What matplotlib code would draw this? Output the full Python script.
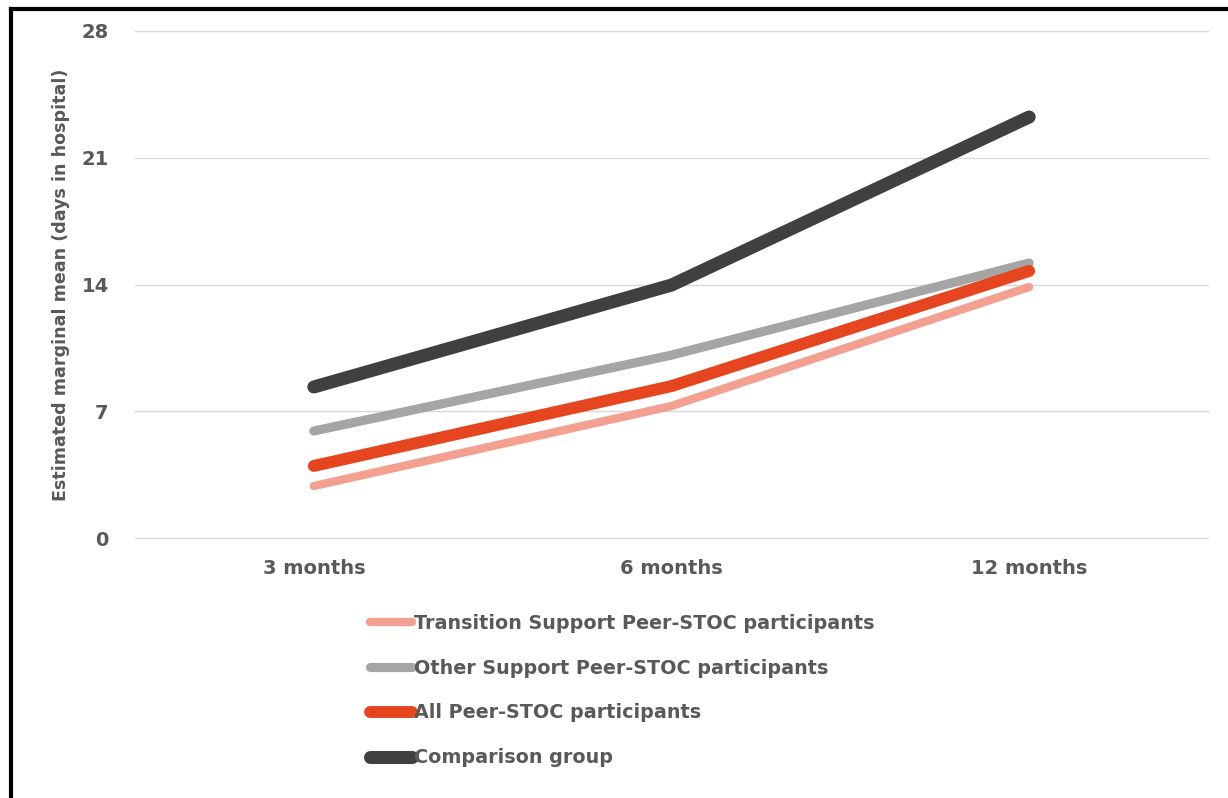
import matplotlib.pyplot as plt
from matplotlib.lines import Line2D

periods = ['3 months', '6 months', '12 months']
transition_support = [2.87, 7.29, 13.86]
other_support = [5.91, 10.1, 15.19]
all_peer = [3.98, 8.39, 14.75]
comparison = [8.34, 13.97, 23.25]
y_ticks = [0, 7, 14, 21, 28]

text_grey = '#595959'
plt.rcParams['font.family'] = 'DejaVu Sans'
plt.rcParams['font.weight'] = 'bold'

fig = plt.figure(figsize=(12.28, 7.98), dpi=100)
ax = fig.add_axes([135 / 1228, 1 - 538 / 798, (1208 - 135) / 1228, (538 - 31) / 798])

x = range(len(periods))
series = [
    ('Transition Support Peer-STOC participants', transition_support, '#F4A090', 6.0),
    ('Other Support Peer-STOC participants', other_support, '#A5A5A5', 6.6),
    ('All Peer-STOC participants', all_peer, '#E6461F', 8.6),
    ('Comparison group', comparison, '#404040', 9.4),
]
for label, vals, col, lw in series:
    ax.plot(x, vals, color=col, lw=lw, solid_capstyle='round',
            solid_joinstyle='round', label=label)

ax.set_xlim(-0.5, 2.5)
ax.set_ylim(0, 28)
ax.set_yticks(y_ticks)
ax.set_xticks(list(x))
ax.set_xticklabels(periods)
ax.grid(axis='y', color='#D9D9D9', lw=1)
for gl in ax.get_ygridlines():
    gl.set_clip_on(False)
ax.set_axisbelow(True)
for s in ax.spines.values():
    s.set_visible(False)
ax.tick_params(length=0, labelsize=14, colors=text_grey, pad=19)
ax.tick_params(axis='x', pad=15)
for t in ax.get_xticklabels() + ax.get_yticklabels():
    t.set_fontweight('bold')
ax.set_ylabel('Estimated marginal mean (days in hospital)', fontsize=12.6,
              color=text_grey, fontweight='bold', labelpad=8)

leg = ax.legend(loc='upper left', bbox_to_anchor=(362 / 1228, 1 - 606 / 798),
                bbox_transform=fig.transFigure, frameon=False, fontsize=13.8,
                handlelength=2.2, handletextpad=0.12, labelspacing=1.35,
                borderaxespad=0)
for t in leg.get_texts():
    t.set_color(text_grey)
    t.set_fontweight('bold')

# outer frame on top and left edges
fig.add_artist(Line2D([11 / 1228, 1], [1 - 9 / 798, 1 - 9 / 798],
                      transform=fig.transFigure, color='black', lw=3))
fig.add_artist(Line2D([11 / 1228, 11 / 1228], [0, 1 - 9 / 798],
                      transform=fig.transFigure, color='black', lw=3))

fig.savefig('out.png', dpi=100)
